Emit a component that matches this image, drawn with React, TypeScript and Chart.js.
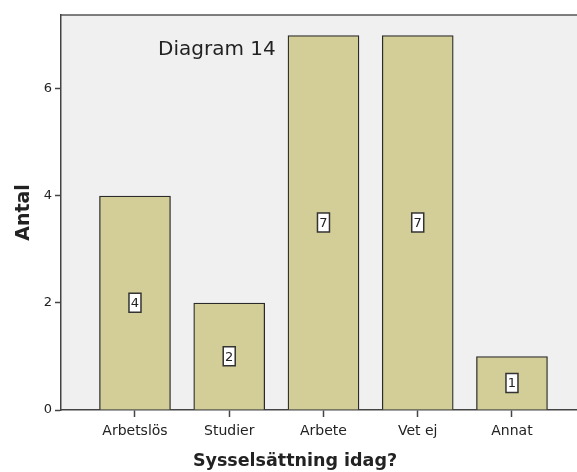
import React, { useEffect, useRef } from "react";
import { Chart, registerables } from "chart.js";

Chart.register(...registerables);

const CATEGORIES = ["Arbetslös", "Studier", "Arbete", "Vet ej", "Annat"];
const COUNTS = [4, 2, 7, 7, 1];
const Y_TICKS = [0, 2, 4, 6];
const CHART_TITLE = "Diagram 14";
const X_TITLE = "Sysselsättning idag?";
const Y_TITLE = "Antal";

const FONT = "'DejaVu Sans', sans-serif";

const plotBgPlugin = {
  id: "plotBg",
  beforeDraw(chart: any) {
    const { ctx, chartArea } = chart;
    ctx.save();
    ctx.fillStyle = "#F0F0F0";
    ctx.fillRect(chartArea.left, chartArea.top, chartArea.right - chartArea.left, chartArea.bottom - chartArea.top);
    ctx.strokeStyle = "#555555";
    ctx.lineWidth = 1.5;
    ctx.beginPath();
    ctx.moveTo(chartArea.left, chartArea.top);
    ctx.lineTo(chartArea.right, chartArea.top);
    ctx.stroke();
    ctx.restore();
  },
  afterDraw(chart: any) {
    const { ctx, chartArea } = chart;
    ctx.save();
    ctx.fillStyle = "#222222";
    ctx.font = `20px ${FONT}`;
    ctx.textAlign = "left";
    ctx.textBaseline = "alphabetic";
    ctx.fillText(CHART_TITLE, chartArea.left + 97, chartArea.top + 40);
    ctx.font = `bold 17.5px ${FONT}`;
    ctx.textAlign = "center";
    ctx.fillText(X_TITLE, 295, 466);
    ctx.restore();
  },
};

const valueLabelPlugin = {
  id: "valueLabels",
  afterDatasetsDraw(chart: any) {
    const { ctx } = chart;
    const meta = chart.getDatasetMeta(0);
    ctx.save();
    ctx.font = `13px ${FONT}`;
    ctx.textAlign = "center";
    ctx.textBaseline = "middle";
    meta.data.forEach((bar: any, i: number) => {
      const cx = bar.x;
      const cy = (bar.y + bar.base) / 2;
      const w = 12;
      const h = 19;
      ctx.fillStyle = "#FFFFFF";
      ctx.fillRect(cx - w / 2, cy - h / 2, w, h);
      ctx.strokeStyle = "#333333";
      ctx.lineWidth = 1.5;
      ctx.strokeRect(cx - w / 2, cy - h / 2, w, h);
      ctx.fillStyle = "#222222";
      ctx.fillText(String(COUNTS[i]), cx, cy + 1);
    });
    ctx.restore();
  },
};

export default function App() {
  const canvasRef = useRef<HTMLCanvasElement | null>(null);

  useEffect(() => {
    if (!canvasRef.current) return;
    const chart = new Chart(canvasRef.current, {
      type: "bar",
      data: {
        datasets: [
          {
            data: COUNTS.map((v, i) => ({ x: i, y: v })),
            backgroundColor: "#D3CE97",
            borderColor: "#2A2A2A",
            borderWidth: 1.3,
            barThickness: 71,
          },
        ],
      },
      plugins: [plotBgPlugin, valueLabelPlugin],
      options: {
        animation: false,
        responsive: false,
        layout: { padding: { top: 15, right: 0, left: 0, bottom: 0 } },
        plugins: {
          legend: { display: false },
          tooltip: { enabled: false },
        },
        scales: {
          x: {
            type: "linear",
            offset: false,
            min: -0.785,
            max: 4.69,
            afterBuildTicks: (scale: any) => {
              scale.ticks = CATEGORIES.map((_, i) => ({ value: i }));
            },
            afterFit: (scale: any) => {
              scale.height = 62;
            },
            ticks: {
              autoSkip: false,
              maxRotation: 0,
              padding: 6,
              color: "#222222",
              font: { family: FONT, size: 14 },
              callback: (v: any) => CATEGORIES[Math.round(Number(v))] ?? "",
            },
            grid: {
              offset: false,
              drawOnChartArea: false,
              drawTicks: true,
              tickLength: 7,
              color: "#444444",
              tickWidth: 1.5,
            },
            border: { display: true, color: "#444444", width: 1.5 },
          },
          y: {
            min: 0,
            max: 7.383,
            afterBuildTicks: (scale: any) => {
              scale.ticks = Y_TICKS.map((v) => ({ value: v }));
            },
            afterFit: (scale: any) => {
              scale.width = 61;
            },
            ticks: {
              padding: 3,
              color: "#222222",
              font: { family: FONT, size: 13 },
            },
            grid: {
              drawOnChartArea: false,
              drawTicks: true,
              tickLength: 6,
              color: "#444444",
              tickWidth: 1.5,
            },
            border: { display: true, color: "#444444", width: 1.5 },
            title: {
              display: true,
              text: Y_TITLE,
              color: "#222222",
              font: { family: FONT, size: 19, weight: "bold" },
              padding: { top: 13, bottom: 0 },
            },
          },
        },
      },
    });
    return () => chart.destroy();
  }, []);

  return (
    <div style={{ position: "absolute", left: 0, top: 0, width: 577, height: 472, background: "#FFFFFF" }}>
      <canvas ref={canvasRef} width={577} height={472} style={{ display: "block" }} />
    </div>
  );
}
